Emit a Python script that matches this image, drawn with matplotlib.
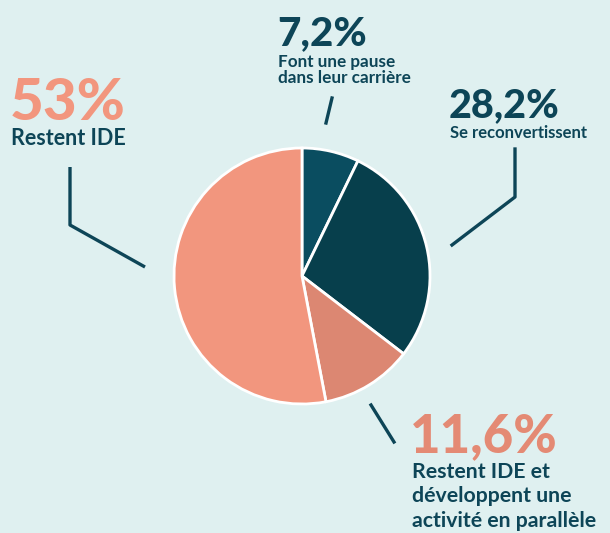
import matplotlib
matplotlib.use("Agg")
from matplotlib import pyplot as plt

# données
parts = [7.2, 28.2, 11.6, 53.0]
couleurs = ['#0a4d60', '#073f4c', '#dc8772', '#f2967e']
pourcents = ['7,2%', '28,2%', '11,6%', '53%']
libelles = [['Font une pause', 'dans leur carrière'],
            ['Se reconvertissent'],
            ['Restent IDE et', 'développent une', 'activité en parallèle'],
            ['Restent IDE']]

fond = '#dff0f0'
fonce = '#0d4557'
saumon = '#f2967e'
saumon2 = '#e48a74'

plt.rcParams['font.family'] = ['Lato', 'DejaVu Sans']

fig = plt.figure(figsize=(6.10, 5.33), dpi=100)
fig.patch.set_facecolor(fond)
ax = fig.add_axes([0, 0, 1, 1])

# camembert (axe y inversé -> sens horaire visuel avec counterclock=True)
ax.pie(parts, colors=couleurs, startangle=-90, counterclock=True,
       center=(302, 276), radius=128, frame=True,
       wedgeprops=dict(edgecolor='white', linewidth=2))
ax.set_xlim(0, 610)
ax.set_ylim(533, 0)
ax.set_aspect('equal')
ax.axis('off')

# traits de rappel
lw = 2.4
ax.plot([70, 70, 145], [167, 225, 267], color=fonce, lw=lw, solid_capstyle='butt')
ax.plot([332, 326], [98, 123], color=fonce, lw=lw)
ax.plot([515, 515, 452], [149, 197, 245], color=fonce, lw=lw)
ax.plot([371, 394], [405, 442], color=fonce, lw=lw)


def bloc(x, y, lignes, taille, pas):
    for i, l in enumerate(lignes):
        ax.text(x, y + i * pas, l, color=fonce, fontsize=taille, fontweight='bold',
                va='baseline')


# 53 %
ax.text(10, 120, pourcents[3], color=saumon, fontsize=42, fontweight='black', va='baseline')
bloc(11, 145, libelles[3], 15.5, 0)

# 7,2 %
ax.text(277, 45, pourcents[0], color=fonce, fontsize=29, fontweight='black', va='baseline')
bloc(278, 67, libelles[0], 12.3, 16)

# 28,2 %
ax.text(449, 117, pourcents[1], color=fonce, fontsize=28.5, fontweight='black', va='baseline')
bloc(450, 138, libelles[1], 12, 0)

# 11,6 %
ax.text(410, 452, pourcents[2], color=saumon2, fontsize=38, fontweight='black', va='baseline')
bloc(412, 478, libelles[2], 15.3, 24.5)

fig.savefig('out.png', dpi=100, facecolor=fond)
